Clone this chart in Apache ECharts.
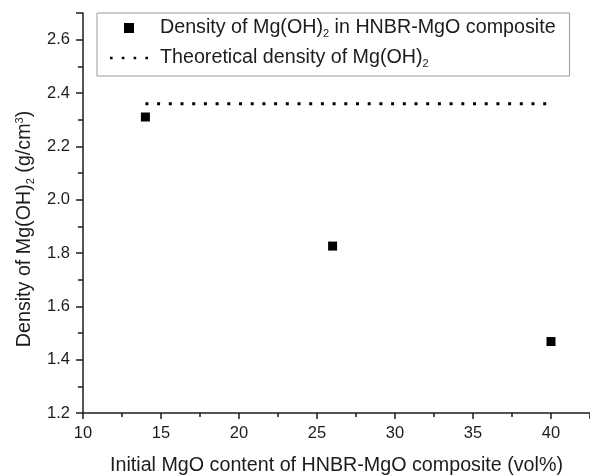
<!DOCTYPE html>
<html>
<head>
<meta charset="utf-8">
<script src="https://cdn.jsdelivr.net/npm/echarts@6/dist/echarts.min.js"></script>
<style>
html, body { margin: 0; padding: 0; background: #fff; }
#main { width: 590px; height: 475px; }
</style>
</head>
<body>
<div id="main"></div>
<script>
// measured points
var mgoContent = [14, 26, 40];
var mgohDensity = [2.31, 1.826, 1.468];
// theoretical density line
var theoryX = [14, 40];
var theoryDensity = 2.36;

var xTicks = [10, 15, 20, 25, 30, 35, 40];
var yTicks = [1.2, 1.4, 1.6, 1.8, 2.0, 2.2, 2.4, 2.6];

var font = '"Liberation Sans", Arial, sans-serif';
var ink = '#1c1c1c';

var chart = echarts.init(document.getElementById('main'));

var scatterData = mgoContent.map(function (x, i) { return [x, mgohDensity[i]]; });
var lineData = theoryX.map(function (x) { return [x, theoryDensity]; });

var rich = {
    a: { fontSize: 19.7, fontFamily: font, color: ink, lineHeight: 22 },
    s: { fontSize: 11, fontFamily: font, color: ink, lineHeight: 22, verticalAlign: 'bottom', padding: [10, 0, 0, 0] },
    u: { fontSize: 11, fontFamily: font, color: ink, lineHeight: 22, padding: [0, 0, 10, 0] }
};

chart.setOption({
    animation: false,
    backgroundColor: '#fff',
    grid: { left: 83, right: 0, top: 13, bottom: 62, containLabel: false, outerBoundsMode: 'none' },
    legend: {
        orient: 'vertical',
        left: 97,
        top: 13,
        padding: [5, 14, 7, 13],
        itemGap: 9,
        itemWidth: 38,
        itemHeight: 10,
        borderColor: '#9a9a9a',
        borderWidth: 1,
        borderRadius: 0,
        symbolKeepAspect: true,
        textStyle: { padding: [0, 0, 0, 7], rich: rich },
        formatter: function (name) {
            if (name === 'measured') {
                return '{a|Density of Mg(OH)}{s|2}{a| in HNBR-MgO composite}';
            }
            return '{a|Theoretical density of Mg(OH)}{s|2}';
        },
        data: [
            { name: 'measured', icon: 'path://M0,0H9V9H0Z', itemStyle: { color: '#000', opacity: 1 } },
            { name: 'theory', icon: 'path://M0,0H2.6V2.6H0Z M11.8,0H14.4V2.6H11.8Z M23.6,0H26.2V2.6H23.6Z M35.4,0H38V2.6H35.4Z', itemStyle: { color: '#000', opacity: 1 } }
        ]
    },
    xAxis: {
        type: 'value',
        min: 10,
        max: 42.5,
        interval: 5,
        name: 'Initial MgO content of HNBR-MgO composite (vol%)',
        nameLocation: 'middle',
        nameGap: 43,
        nameTextStyle: { fontSize: 19.7, fontFamily: font, color: ink },
        axisLine: { lineStyle: { color: ink, width: 1.5 } },
        axisTick: { inside: false, length: 6, lineStyle: { color: ink, width: 1.5 } },
        minorTick: { show: true, splitNumber: 2, length: 4, lineStyle: { color: ink, width: 1.5 } },
        axisLabel: {
            fontSize: 16.5, fontFamily: font, color: ink, margin: 12,
            formatter: function (v) { return xTicks.indexOf(v) >= 0 ? String(v) : ''; }
        },
        splitLine: { show: false }
    },
    yAxis: {
        type: 'value',
        min: 1.2,
        max: 2.7,
        interval: 0.2,
        name: '{a|Density of Mg(OH)}{s|2}{a| (g/cm}{u|3}{a|)}',
        nameLocation: 'middle',
        nameGap: 47,
        nameTextStyle: { rich: rich, padding: [0, 32, 0, 0] },
        axisLine: { onZero: false, lineStyle: { color: ink, width: 1.5 } },
        axisTick: { inside: false, length: 7, lineStyle: { color: ink, width: 1.5 } },
        minorTick: { show: true, splitNumber: 2, length: 5, lineStyle: { color: ink, width: 1.5 } },
        axisLabel: {
            fontSize: 16.5, fontFamily: font, color: ink, margin: 13,
            formatter: function (v) {
                var t = yTicks.filter(function (y) { return Math.abs(y - v) < 1e-6; });
                return t.length ? t[0].toFixed(1) : '';
            }
        },
        splitLine: { show: false }
    },
    series: [
        {
            name: 'measured',
            type: 'scatter',
            symbol: 'rect',
            symbolSize: 9,
            itemStyle: { color: '#000', opacity: 1 },
            data: scatterData
        },
        {
            name: 'theory',
            type: 'line',
            symbol: 'none',
            lineStyle: { color: '#000', width: 3, type: [3, 8.7], cap: 'butt' },
            itemStyle: { color: '#000' },
            data: lineData
        }
    ]
});
</script>
</body>
</html>
